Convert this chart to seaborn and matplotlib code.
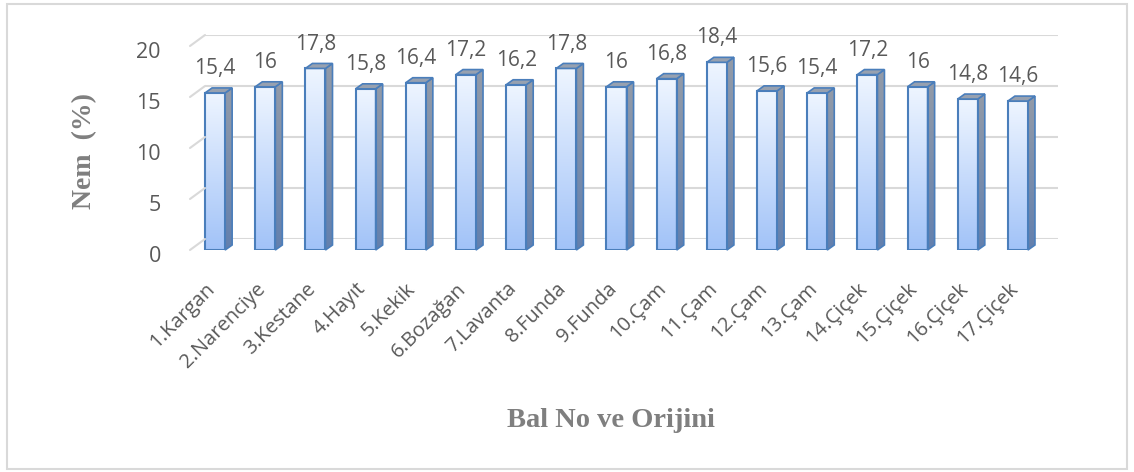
import numpy as np
import matplotlib
matplotlib.use("Agg")
import matplotlib.pyplot as plt
import seaborn as sns
from matplotlib.patches import Polygon, Rectangle, ConnectionPatch
from matplotlib.colors import to_rgba
from matplotlib.transforms import ScaledTranslation

# data
honeys = ["1.Kargan", "2.Narenciye", "3.Kestane", "4.Hayıt", "5.Kekik",
          "6.Bozağan", "7.Lavanta", "8.Funda", "9.Funda", "10.Çam",
          "11.Çam", "12.Çam", "13.Çam", "14.Çiçek", "15.Çiçek",
          "16.Çiçek", "17.Çiçek"]
nem = [15.4, 16, 17.8, 15.8, 16.4, 17.2, 16.2, 17.8, 16, 16.8,
       18.4, 15.6, 15.4, 17.2, 16, 14.8, 14.6]
y_ticks = [0, 5, 10, 15, 20]

sns.set_style("white")
plt.rcParams['font.family'] = ['Open Sans', 'DejaVu Sans']

W, H = 1134, 472
fig = plt.figure(figsize=(W / 100, H / 100), dpi=100)


def px(left, bottom, w, h):
    # pixel box (bottom measured from the top of the image) -> figure fraction
    return [left / W, (H - bottom) / H, w / W, h / H]


def shift(dx_px, dy_px):
    return ScaledTranslation(dx_px / 100, dy_px / 100, fig.dpi_scale_trans)


grid_col = "#d9d9d9"
txt_col = "#595959"
lab_col = "#7f7f7f"
edge_col = "#4a7ebb"

# back wall with the gridlines
back = fig.add_axes(px(205, 239, 853, 204))
back.set_facecolor("none")
back.set_xlim(-0.5, len(honeys) - 0.5)
back.set_ylim(0, 20)
back.set_yticks(y_ticks)
back.set_xticks([])
back.yaxis.grid(True, color=grid_col, lw=1.5)
back.tick_params(axis="y", length=0, labelleft=False)
sns.despine(ax=back, left=True, bottom=True)

# front plane with the bars
ax = fig.add_axes(px(190, 250, 853, 204))
ax.set_facecolor("none")
sns.barplot(x=honeys, y=nem, ax=ax, width=0.4, color="#a2c3f8",
            edgecolor=edge_col, linewidth=1.5, zorder=4)
ax.set_xlim(-0.5, len(honeys) - 0.5)
ax.set_ylim(0, 20)
ax.set_yticks(y_ticks)
sns.despine(ax=ax, left=True, bottom=True)


def grad(c_top, c_bot, n=64):
    a = np.array(to_rgba(c_top))
    b = np.array(to_rgba(c_bot))
    t = np.linspace(0, 1, n)[:, None]
    return (a * (1 - t) + b * t)[:, None, :]


dx, dy = 0.14, 0.49
front_grad = grad("#eef5ff", "#a2c3f8")
side_grad = grad("#939ba8", "#6380ae")

for p in ax.patches:
    x, w, h = p.get_x(), p.get_width(), p.get_height()
    # front face gradient
    ax.imshow(front_grad, extent=[x, x + w, 0, h], aspect="auto",
              zorder=3, clip_on=False)
    p.set_facecolor("none")
    # side face
    side = Polygon([(x + w, 0), (x + w, h), (x + w + dx, h + dy), (x + w + dx, dy)],
                   closed=True, facecolor="none", edgecolor=edge_col,
                   lw=1.2, zorder=4, clip_on=False)
    ax.add_patch(side)
    im = ax.imshow(side_grad, extent=[x + w, x + w + dx, 0, h + dy],
                   aspect="auto", zorder=3)
    im.set_clip_path(side)
    # top face
    ax.add_patch(Polygon([(x, h), (x + dx, h + dy), (x + w + dx, h + dy), (x + w, h)],
                         closed=True, facecolor="#97a1b0", edgecolor=edge_col,
                         lw=1.2, zorder=4, clip_on=False))

ax.set_xlim(-0.5, len(honeys) - 0.5)
ax.set_ylim(0, 20)

ax.bar_label(ax.containers[0], labels=[f"{v:g}".replace(".", ",") for v in nem],
             padding=10, fontsize=15, color=txt_col)

# floor diagonals joining the front plane to the back wall
for t in y_ticks:
    fig.add_artist(ConnectionPatch(xyA=(-0.5, t), coordsA=ax.transData,
                                   xyB=(-0.5, t), coordsB=back.transData,
                                   color=grid_col, lw=1.5))

ax.tick_params(axis="y", length=0, pad=21, labelsize=15.5, labelcolor=txt_col)
ax.tick_params(axis="x", length=0, pad=28, labelsize=14.5, labelcolor=txt_col)
ax.set_xticks(range(len(honeys)))
ax.set_xticklabels(honeys, rotation=45, ha="right", va="top", rotation_mode="anchor")
for lab in ax.get_xticklabels():
    lab.set_transform(lab.get_transform() + shift(-10, 10))
for lab in ax.get_yticklabels():
    lab.set_transform(lab.get_transform() + shift(0, -4))

ax.set_ylabel("Nem  (%)", fontfamily="Liberation Serif", fontweight="bold",
              fontsize=20, color=lab_col)
ax.yaxis.set_label_coords((97 - 190) / 853, (250 - 151) / 204)
ax.set_xlabel("Bal No ve Orijini", fontfamily="Liberation Serif", fontweight="bold",
              fontsize=20.5, color=lab_col)
ax.xaxis.set_label_coords((611 - 190) / 853, (250 - 408) / 204)

# light frame round the chart
fig.add_artist(Rectangle((7 / W, 3 / H), 1120 / W, 465 / H, transform=fig.transFigure,
                         fill=False, edgecolor=grid_col, lw=1.5))

fig.savefig("out.png", dpi=100)
